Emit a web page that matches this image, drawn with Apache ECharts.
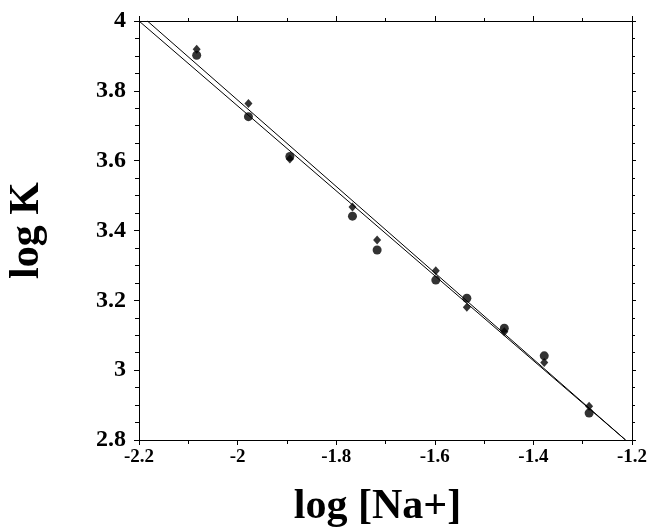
<!DOCTYPE html>
<html>
<head>
<meta charset="utf-8">
<script src="https://cdn.jsdelivr.net/npm/echarts@6/dist/echarts.min.js"></script>
<style>html,body{margin:0;padding:0;background:#fff}#c{width:652px;height:529px}</style>
</head>
<body>
<div id="c"></div>
<script>
const xVals = [-2.083, -1.978, -1.894, -1.767, -1.717, -1.598, -1.535, -1.459, -1.378, -1.287];
const circleY = [3.902, 3.726, 3.612, 3.441, 3.344, 3.258, 3.206, 3.120, 3.041, 2.877];
const diamondY = [3.919, 3.764, 3.605, 3.467, 3.373, 3.285, 3.180, 3.110, 3.022, 2.897];
const lineAX = [-2.2, -1.213];
const lineAY = [4.0, 2.8];
const lineBX = [-2.183, -1.213];
const lineBY = [4.0, 2.8];

const font = 'Liberation Serif';
const pair = (xs, ys) => xs.map((x, i) => [x, ys[i]]);
const fmt = v => String(parseFloat(Number(v).toFixed(1)));

const chart = echarts.init(document.getElementById('c'), null, {renderer: 'canvas'});
const axisLine = {show: true, lineStyle: {color: '#000', width: 1}};
chart.setOption({
  animation: false,
  backgroundColor: '#fff',
  grid: {left: 139, right: 20, top: 21, bottom: 89, containLabel: false, outerBoundsMode: 'none'},
  xAxis: [{
    type: 'value', min: -2.2, max: -1.2, interval: 0.2, position: 'bottom',
    axisLine: axisLine,
    axisTick: {show: true, length: 5, lineStyle: {color: '#000'}},
    minorTick: {show: true, splitNumber: 2, length: 4, lineStyle: {color: '#000'}},
    splitLine: {show: false},
    axisLabel: {formatter: fmt, fontFamily: font, fontWeight: 'bold', fontSize: 19, color: '#000', margin: 8},
    name: 'log [Na+]', nameLocation: 'middle', nameGap: 46,
    nameTextStyle: {fontFamily: font, fontWeight: 'bold', fontSize: 42, color: '#000', padding: [0, 16, 0, 0]}
  }, {
    type: 'value', min: -2.2, max: -1.2, interval: 0.2, position: 'top',
    axisLine: axisLine,
    axisTick: {show: true, length: 5, lineStyle: {color: '#000'}},
    minorTick: {show: true, splitNumber: 2, length: 3, lineStyle: {color: '#000'}},
    splitLine: {show: false}, axisLabel: {show: false}
  }],
  yAxis: [{
    type: 'value', min: 2.8, max: 4, interval: 0.2, position: 'left',
    axisLine: axisLine,
    axisTick: {show: true, length: 5, lineStyle: {color: '#000'}},
    minorTick: {show: true, splitNumber: 4, length: 4, lineStyle: {color: '#000'}},
    splitLine: {show: false},
    axisLabel: {formatter: fmt, fontFamily: font, fontWeight: 'bold', fontSize: 24, color: '#000', margin: 13},
    name: 'log K', nameLocation: 'middle', nameGap: 91, nameRotate: 90,
    nameTextStyle: {fontFamily: font, fontWeight: 'bold', fontSize: 42, color: '#000'}
  }, {
    type: 'value', min: 2.8, max: 4, interval: 0.2, position: 'right',
    axisLine: axisLine,
    axisTick: {show: true, length: 4, lineStyle: {color: '#000'}},
    minorTick: {show: true, splitNumber: 4, length: 3, lineStyle: {color: '#000'}},
    splitLine: {show: false}, axisLabel: {show: false}
  }],
  series: [
    {type: 'line', data: pair(lineAX, lineAY), symbol: 'none', lineStyle: {color: '#000', width: 1}, silent: true},
    {type: 'line', data: pair(lineBX, lineBY), symbol: 'none', lineStyle: {color: '#000', width: 1}, silent: true},
    {type: 'scatter', data: pair(xVals, circleY), symbol: 'circle', symbolSize: 9, itemStyle: {color: '#000'}},
    {type: 'scatter', data: pair(xVals, diamondY), symbol: 'diamond', symbolSize: [8, 9], itemStyle: {color: '#000'}}
  ]
});
</script>
</body>
</html>
